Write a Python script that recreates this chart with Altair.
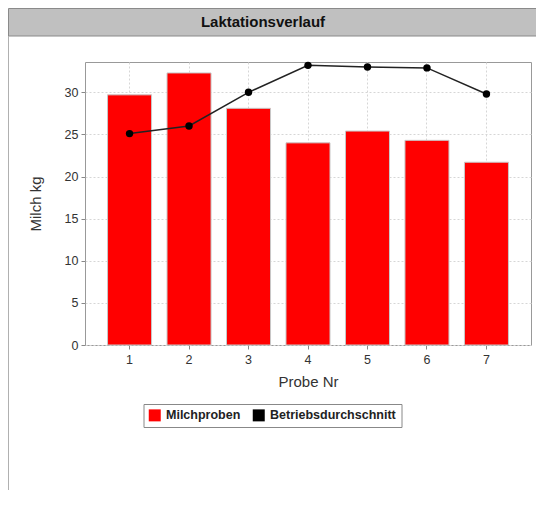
import altair as alt
import pandas as pd

probe = ["1", "2", "3", "4", "5", "6", "7"]
milchproben = [29.7, 32.3, 28.1, 24.0, 25.4, 24.3, 21.7]
betriebsdurchschnitt = [25.1, 26.0, 30.0, 33.2, 33.0, 32.9, 29.8]
series_names = ["Milchproben", "Betriebsdurchschnitt"]
y_ticks = [0, 5, 10, 15, 20, 25, 30]
title_text = "Laktationsverlauf"

df = pd.DataFrame({"Probe": probe, "Milch": milchproben, "Betrieb": betriebsdurchschnitt})

W, H = 446, 283
PAD_L, PAD_T = 77, 54
TOTAL_W, TOTAL_H = 528, 482

font = "Liberation Sans"

x_enc = alt.X(
    "Probe:N", sort=probe, title="Probe Nr",
    scale=alt.Scale(paddingInner=0.26, paddingOuter=0.379),
    axis=alt.Axis(labelAngle=0, bandPosition=0.5, grid=True, gridDash=[2, 2],
                  gridColor="#d6d6d6", domain=False, tickSize=4, tickColor="#888",
                  labelFontSize=12.5, labelColor="#333", labelFont=font,
                  titleFontSize=15, titleFontWeight="normal", titleColor="#333",
                  titleFont=font, titlePadding=9, labelPadding=4),
)

y_axis = alt.Axis(values=y_ticks, grid=True, gridDash=[2, 2], gridColor="#d6d6d6",
                  domain=False, tickSize=4, tickColor="#888",
                  labelFontSize=12.5, labelColor="#333", labelFont=font,
                  titleFontSize=15, titleFontWeight="normal", titleColor="#333",
                  titleFont=font, titlePadding=21, labelPadding=3)

bars = alt.Chart(df).mark_bar(stroke="#c8c8c8", strokeWidth=1).encode(
    x=x_enc,
    y=alt.Y("Milch:Q", title="Milch kg", scale=alt.Scale(domain=[0, 33.6], nice=False),
            axis=y_axis),
    color=alt.Color("s:N", scale=alt.Scale(domain=series_names, range=["#ff0000", "#000000"]),
                    legend=alt.Legend(title=None, orient="none", legendX=58.5, legendY=342,
                                      direction="horizontal", strokeColor="#888",
                                      padding=5, symbolType="square", symbolSize=144,
                                      symbolStrokeWidth=0, labelFontSize=12.5,
                                      labelFontWeight="bold", labelFont=font,
                                      labelColor="#222", columnPadding=12, labelOffset=5,
                                      values=series_names)),
).transform_calculate(s="'Milchproben'")

line = alt.Chart(df).mark_line(color="#222", strokeWidth=1.5).encode(
    x=alt.X("Probe:N", sort=probe, bandPosition=0.5),
    y=alt.Y("Betrieb:Q"),
)
points = alt.Chart(df).mark_point(filled=True, color="#000", size=55, opacity=1).encode(
    x=alt.X("Probe:N", sort=probe, bandPosition=0.5),
    y=alt.Y("Betrieb:Q"),
)

deco = alt.Data(values=[{}])
title_bar = alt.Chart(deco).mark_rect(fill="#c0c0c0", stroke="#8a8a8a", strokeWidth=1).encode(
    x=alt.value(-76.5), x2=alt.value(TOTAL_W - PAD_L + 2),
    y=alt.value(-53.5), y2=alt.value(-26),
)
title_txt = alt.Chart(deco).mark_text(fontSize=15, fontWeight="bold", font=font,
                                      color="#111", baseline="middle").encode(
    x=alt.value(178), y=alt.value(-40), text=alt.value(title_text),
)
left_border = alt.Chart(deco).mark_rule(color="#b0b0b0", strokeWidth=1).encode(
    x=alt.value(-76.5), y=alt.value(-26), y2=alt.value(TOTAL_H - PAD_T),
)

chart = alt.layer(title_bar, title_txt, left_border, bars, line, points).properties(
    width=W, height=H,
    autosize=alt.AutoSizeParams(type="none"),
    padding={"left": PAD_L, "top": PAD_T, "right": TOTAL_W - PAD_L - W,
             "bottom": TOTAL_H - PAD_T - H},
    background="white",
).configure_view(stroke="#999", strokeWidth=1)

chart.save("out.html", embed_options={"renderer": "svg", "actions": False})
